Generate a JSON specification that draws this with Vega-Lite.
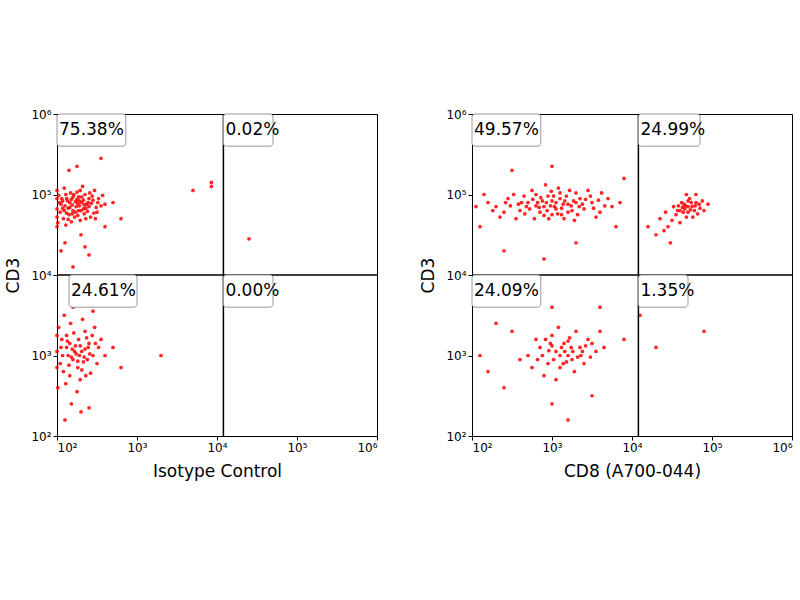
{
  "$schema": "https://vega.github.io/schema/vega-lite/v6.json",
  "padding": {"left": 4, "top": 107, "right": 5, "bottom": 5},
  "spacing": 40,
  "datasets": {
    "pts": [
      {"p":"L","x":2.05,"y":4.88},{"p":"L","x":2.12,"y":4.95},{"p":"L","x":2.2,"y":4.8},{"p":"L","x":2.31,"y":4.9},{"p":"L","x":2.4,"y":4.85},{"p":"L","x":2.5,"y":4.78},{"p":"L","x":2.08,"y":4.7},{"p":"L","x":2.17,"y":5.02},{"p":"L","x":2.26,"y":4.74},{"p":"L","x":2.35,"y":5.0},{"p":"L","x":2.45,"y":4.93},{"p":"L","x":2.55,"y":4.86},{"p":"L","x":2.02,"y":4.99},{"p":"L","x":2.14,"y":4.83},{"p":"L","x":2.23,"y":4.91},{"p":"L","x":2.29,"y":4.68},{"p":"L","x":2.38,"y":4.79},{"p":"L","x":2.47,"y":5.05},{"p":"L","x":2.11,"y":4.62},{"p":"L","x":2.19,"y":4.87},{"p":"L","x":2.27,"y":4.97},{"p":"L","x":2.33,"y":4.82},{"p":"L","x":2.42,"y":4.72},{"p":"L","x":2.52,"y":4.95},{"p":"L","x":2.04,"y":4.78},{"p":"L","x":2.09,"y":5.08},{"p":"L","x":2.16,"y":4.9},{"p":"L","x":2.24,"y":4.85},{"p":"L","x":2.32,"y":5.1},{"p":"L","x":2.39,"y":4.9},{"p":"L","x":2.6,"y":4.88},{"p":"L","x":2.07,"y":4.83},{"p":"L","x":2.15,"y":4.75},{"p":"L","x":2.21,"y":5.0},{"p":"L","x":2.28,"y":4.86},{"p":"L","x":2.36,"y":4.7},{"p":"L","x":2.44,"y":4.98},{"p":"L","x":2.01,"y":4.65},{"p":"L","x":2.13,"y":4.92},{"p":"L","x":2.25,"y":4.94},{"p":"L","x":2.34,"y":4.76},{"p":"L","x":2.41,"y":5.02},{"p":"L","x":2.49,"y":4.84},{"p":"L","x":2.06,"y":4.95},{"p":"L","x":2.18,"y":4.66},{"p":"L","x":2.3,"y":4.8},{"p":"L","x":2.37,"y":4.88},{"p":"L","x":2.46,"y":4.77},{"p":"L","x":2.57,"y":4.99},{"p":"L","x":2.1,"y":4.86},{"p":"L","x":2.22,"y":4.72},{"p":"L","x":2.29,"y":5.05},{"p":"L","x":2.4,"y":4.95},{"p":"L","x":2.03,"y":4.9},{"p":"L","x":2.2,"y":4.97},{"p":"L","x":2.27,"y":4.8},{"p":"L","x":2.33,"y":4.93},{"p":"L","x":2.12,"y":4.77},{"p":"L","x":2.26,"y":4.89},{"p":"L","x":2.16,"y":4.84},
      {"p":"L","x":2.0,"y":4.82},{"p":"L","x":2.0,"y":4.72},{"p":"L","x":2.0,"y":4.95},{"p":"L","x":2.0,"y":5.05},{"p":"L","x":2.0,"y":4.6},{"p":"L","x":2.07,"y":4.92},{"p":"L","x":2.14,"y":4.69},{"p":"L","x":2.23,"y":4.78},{"p":"L","x":2.31,"y":4.97},{"p":"L","x":2.36,"y":4.83},{"p":"L","x":2.43,"y":4.89},{"p":"L","x":2.51,"y":4.9},{"p":"L","x":2.18,"y":4.94},{"p":"L","x":2.25,"y":5.03},{"p":"L","x":2.09,"y":4.8},{"p":"L","x":2.34,"y":4.87},{"p":"L","x":2.48,"y":4.7},{"p":"L","x":2.19,"y":4.76},{"p":"L","x":2.28,"y":4.92},{"p":"L","x":2.11,"y":5.0},
      {"p":"L","x":2.25,"y":5.35},{"p":"L","x":2.55,"y":5.45},{"p":"L","x":2.15,"y":5.3},{"p":"L","x":2.35,"y":4.35},{"p":"L","x":2.1,"y":4.4},{"p":"L","x":2.4,"y":4.25},{"p":"L","x":2.2,"y":4.1},{"p":"L","x":2.6,"y":4.6},{"p":"L","x":2.8,"y":4.7},{"p":"L","x":3.7,"y":5.05},{"p":"L","x":3.93,"y":5.1},{"p":"L","x":3.93,"y":5.15},{"p":"L","x":4.4,"y":4.45},{"p":"L","x":2.7,"y":4.9},{"p":"L","x":2.3,"y":4.5},{"p":"L","x":2.05,"y":4.3},
      {"p":"L","x":2.05,"y":3.1},{"p":"L","x":2.12,"y":3.25},{"p":"L","x":2.2,"y":2.95},{"p":"L","x":2.31,"y":3.05},{"p":"L","x":2.4,"y":3.15},{"p":"L","x":2.5,"y":2.9},{"p":"L","x":2.08,"y":2.8},{"p":"L","x":2.17,"y":3.4},{"p":"L","x":2.26,"y":2.85},{"p":"L","x":2.35,"y":3.3},{"p":"L","x":2.45,"y":3.0},{"p":"L","x":2.55,"y":3.2},{"p":"L","x":2.02,"y":3.35},{"p":"L","x":2.14,"y":3.0},{"p":"L","x":2.23,"y":3.12},{"p":"L","x":2.29,"y":2.7},{"p":"L","x":2.38,"y":2.95},{"p":"L","x":2.47,"y":3.35},{"p":"L","x":2.11,"y":2.65},{"p":"L","x":2.19,"y":3.08},{"p":"L","x":2.27,"y":3.2},{"p":"L","x":2.33,"y":2.92},{"p":"L","x":2.42,"y":2.78},{"p":"L","x":2.52,"y":3.1},{"p":"L","x":2.04,"y":2.9},{"p":"L","x":2.09,"y":3.5},{"p":"L","x":2.16,"y":3.15},{"p":"L","x":2.24,"y":3.02},{"p":"L","x":2.32,"y":3.45},{"p":"L","x":2.39,"y":3.1},{"p":"L","x":2.07,"y":3.0},{"p":"L","x":2.15,"y":2.88},{"p":"L","x":2.21,"y":3.28},{"p":"L","x":2.28,"y":3.0},{"p":"L","x":2.36,"y":2.75},{"p":"L","x":2.44,"y":3.25},{"p":"L","x":2.01,"y":2.6},{"p":"L","x":2.13,"y":3.18},{"p":"L","x":2.25,"y":2.55},{"p":"L","x":2.34,"y":2.98},{"p":"L","x":2.6,"y":3.0},{"p":"L","x":2.18,"y":2.4},{"p":"L","x":2.3,"y":2.3},{"p":"L","x":2.1,"y":2.2},{"p":"L","x":2.4,"y":2.35},{"p":"L","x":2.8,"y":2.85},{"p":"L","x":3.3,"y":3.0},{"p":"L","x":2.2,"y":3.6},{"p":"L","x":2.45,"y":3.55},{"p":"L","x":2.7,"y":3.1},
      {"p":"L","x":2.0,"y":3.05},{"p":"L","x":2.0,"y":2.85},{"p":"L","x":2.0,"y":3.25},{"p":"L","x":2.22,"y":3.05},{"p":"L","x":2.29,"y":3.12},{"p":"L","x":2.18,"y":2.98},{"p":"L","x":2.35,"y":3.08},{"p":"L","x":2.12,"y":3.1},{"p":"L","x":2.26,"y":2.93},{"p":"L","x":2.41,"y":3.02},{"p":"L","x":2.06,"y":3.2},{"p":"L","x":2.31,"y":2.82},{"p":"L","x":2.48,"y":3.15},{"p":"L","x":2.16,"y":2.75},{"p":"L","x":2.37,"y":3.22},
      {"p":"R","x":2.3,"y":4.85},{"p":"R","x":2.45,"y":4.95},{"p":"R","x":2.6,"y":4.8},{"p":"R","x":2.7,"y":4.9},{"p":"R","x":2.8,"y":5.0},{"p":"R","x":2.9,"y":4.85},{"p":"R","x":3.0,"y":4.75},{"p":"R","x":3.1,"y":4.95},{"p":"R","x":3.2,"y":4.88},{"p":"R","x":3.3,"y":5.02},{"p":"R","x":3.4,"y":4.82},{"p":"R","x":3.5,"y":4.9},{"p":"R","x":3.6,"y":4.78},{"p":"R","x":3.7,"y":4.95},{"p":"R","x":2.55,"y":4.7},{"p":"R","x":2.75,"y":5.05},{"p":"R","x":2.85,"y":4.78},{"p":"R","x":2.95,"y":4.98},{"p":"R","x":3.05,"y":4.9},{"p":"R","x":3.15,"y":4.7},{"p":"R","x":3.25,"y":4.8},{"p":"R","x":3.35,"y":4.95},{"p":"R","x":3.45,"y":5.05},{"p":"R","x":3.55,"y":4.72},{"p":"R","x":2.4,"y":4.78},{"p":"R","x":2.65,"y":4.98},{"p":"R","x":2.88,"y":4.92},{"p":"R","x":2.98,"y":4.86},{"p":"R","x":3.08,"y":5.08},{"p":"R","x":3.18,"y":4.98},{"p":"R","x":3.28,"y":4.68},{"p":"R","x":2.2,"y":4.9},{"p":"R","x":3.75,"y":4.85},{"p":"R","x":2.52,"y":5.0},{"p":"R","x":2.78,"y":4.7},{"p":"R","x":3.02,"y":4.98},{"p":"R","x":3.12,"y":4.83},{"p":"R","x":3.22,"y":5.05},{"p":"R","x":3.38,"y":4.88},{"p":"R","x":2.92,"y":5.12},{"p":"R","x":2.68,"y":4.85},{"p":"R","x":3.48,"y":4.98},{"p":"R","x":3.62,"y":5.02},{"p":"R","x":2.35,"y":4.72},{"p":"R","x":3.85,"y":4.9},{"p":"R","x":2.82,"y":4.9},{"p":"R","x":3.05,"y":4.82},{"p":"R","x":2.96,"y":4.7},{"p":"R","x":3.32,"y":4.75},{"p":"R","x":2.62,"y":4.9},
      {"p":"R","x":2.72,"y":4.82},{"p":"R","x":2.86,"y":4.96},{"p":"R","x":2.94,"y":4.8},{"p":"R","x":3.0,"y":4.92},{"p":"R","x":3.07,"y":4.76},{"p":"R","x":3.14,"y":4.88},{"p":"R","x":3.2,"y":4.78},{"p":"R","x":3.27,"y":4.92},{"p":"R","x":3.34,"y":4.85},{"p":"R","x":3.42,"y":4.94},{"p":"R","x":2.58,"y":4.88},{"p":"R","x":2.66,"y":4.76},{"p":"R","x":2.76,"y":4.94},{"p":"R","x":2.84,"y":4.84},{"p":"R","x":3.1,"y":5.02},{"p":"R","x":3.16,"y":4.92},{"p":"R","x":3.24,"y":4.86},{"p":"R","x":2.9,"y":4.74},{"p":"R","x":2.99,"y":5.04},{"p":"R","x":3.03,"y":4.85},{"p":"R","x":2.48,"y":4.86},{"p":"R","x":3.52,"y":4.83},{"p":"R","x":3.58,"y":4.93},{"p":"R","x":3.66,"y":4.86},{"p":"R","x":2.26,"y":4.8},{"p":"R","x":2.42,"y":4.9},{"p":"R","x":3.12,"y":4.75},{"p":"R","x":2.93,"y":4.9},{"p":"R","x":2.8,"y":4.86},{"p":"R","x":3.3,"y":4.9},
      {"p":"R","x":2.5,"y":5.3},{"p":"R","x":3.0,"y":5.35},{"p":"R","x":2.1,"y":4.6},{"p":"R","x":3.8,"y":4.6},{"p":"R","x":3.3,"y":4.4},{"p":"R","x":2.9,"y":4.2},{"p":"R","x":2.4,"y":4.3},{"p":"R","x":3.9,"y":5.2},{"p":"R","x":2.05,"y":4.85},{"p":"R","x":2.15,"y":5.0},
      {"p":"R","x":4.6,"y":4.8},{"p":"R","x":4.65,"y":4.88},{"p":"R","x":4.7,"y":4.78},{"p":"R","x":4.75,"y":4.85},{"p":"R","x":4.8,"y":4.9},{"p":"R","x":4.68,"y":4.72},{"p":"R","x":4.72,"y":4.95},{"p":"R","x":4.78,"y":4.8},{"p":"R","x":4.62,"y":4.9},{"p":"R","x":4.85,"y":4.83},{"p":"R","x":4.55,"y":4.75},{"p":"R","x":4.7,"y":4.85},{"p":"R","x":4.74,"y":4.9},{"p":"R","x":4.66,"y":4.82},{"p":"R","x":4.82,"y":4.76},{"p":"R","x":4.58,"y":4.86},{"p":"R","x":4.76,"y":4.72},{"p":"R","x":4.88,"y":4.92},{"p":"R","x":4.64,"y":4.78},{"p":"R","x":4.7,"y":4.92},{"p":"R","x":4.5,"y":4.68},{"p":"R","x":4.45,"y":4.6},{"p":"R","x":4.4,"y":4.55},{"p":"R","x":4.35,"y":4.7},{"p":"R","x":4.52,"y":4.85},{"p":"R","x":4.9,"y":4.8},{"p":"R","x":4.8,"y":5.0},{"p":"R","x":4.68,"y":5.0},{"p":"R","x":4.6,"y":4.65},{"p":"R","x":4.3,"y":4.5},{"p":"R","x":4.42,"y":4.78},{"p":"R","x":4.95,"y":4.88},{"p":"R","x":4.48,"y":4.4},{"p":"R","x":4.2,"y":4.6},
      {"p":"R","x":4.67,"y":4.86},{"p":"R","x":4.73,"y":4.81},{"p":"R","x":4.79,"y":4.86},{"p":"R","x":4.63,"y":4.84},{"p":"R","x":4.84,"y":4.88},{"p":"R","x":4.57,"y":4.8},
      {"p":"R","x":2.7,"y":3.0},{"p":"R","x":2.85,"y":3.1},{"p":"R","x":2.95,"y":2.9},{"p":"R","x":3.05,"y":3.05},{"p":"R","x":3.15,"y":3.15},{"p":"R","x":3.25,"y":2.95},{"p":"R","x":3.35,"y":3.1},{"p":"R","x":3.45,"y":3.2},{"p":"R","x":3.55,"y":3.05},{"p":"R","x":2.9,"y":2.75},{"p":"R","x":3.0,"y":3.25},{"p":"R","x":3.1,"y":2.85},{"p":"R","x":3.2,"y":3.0},{"p":"R","x":3.3,"y":3.3},{"p":"R","x":3.4,"y":2.9},{"p":"R","x":3.5,"y":3.15},{"p":"R","x":2.8,"y":3.2},{"p":"R","x":3.05,"y":2.7},{"p":"R","x":3.22,"y":3.22},{"p":"R","x":3.38,"y":3.05},{"p":"R","x":3.6,"y":3.3},{"p":"R","x":2.6,"y":2.95},{"p":"R","x":3.12,"y":3.1},{"p":"R","x":3.28,"y":2.8},{"p":"R","x":2.98,"y":3.15},{"p":"R","x":3.18,"y":2.92},{"p":"R","x":3.48,"y":2.98},{"p":"R","x":2.75,"y":2.85},{"p":"R","x":3.65,"y":3.1},{"p":"R","x":3.08,"y":3.35},
      {"p":"R","x":2.88,"y":3.0},{"p":"R","x":2.96,"y":3.06},{"p":"R","x":3.02,"y":2.95},{"p":"R","x":3.1,"y":3.0},{"p":"R","x":3.16,"y":3.05},{"p":"R","x":3.24,"y":3.1},{"p":"R","x":3.32,"y":2.98},{"p":"R","x":3.42,"y":3.12},{"p":"R","x":2.82,"y":2.95},{"p":"R","x":3.0,"y":3.12},{"p":"R","x":3.2,"y":3.18},{"p":"R","x":3.36,"y":3.0},{"p":"R","x":3.14,"y":2.9},{"p":"R","x":2.92,"y":3.2},{"p":"R","x":3.26,"y":3.05},
      {"p":"R","x":2.1,"y":3.0},{"p":"R","x":2.3,"y":3.4},{"p":"R","x":2.4,"y":2.6},{"p":"R","x":3.0,"y":2.4},{"p":"R","x":3.2,"y":2.2},{"p":"R","x":3.5,"y":2.5},{"p":"R","x":3.9,"y":3.2},{"p":"R","x":4.3,"y":3.1},{"p":"R","x":4.9,"y":3.3},{"p":"R","x":2.2,"y":2.8},{"p":"R","x":3.0,"y":3.6},{"p":"R","x":3.6,"y":3.6},{"p":"R","x":2.5,"y":3.3},{"p":"R","x":4.1,"y":3.5}
    ],
    "gates": [
      {"p":"L","t":"75.38%","x":2.0,"x2":2.86,"y":6.0,"y2":5.6},
      {"p":"L","t":"0.02%","x":4.08,"x2":4.7,"y":6.0,"y2":5.6},
      {"p":"L","t":"24.61%","x":2.15,"x2":3.0,"y":4.0,"y2":3.6},
      {"p":"L","t":"0.00%","x":4.08,"x2":4.7,"y":4.0,"y2":3.6},
      {"p":"R","t":"49.57%","x":2.0,"x2":2.86,"y":6.0,"y2":5.6},
      {"p":"R","t":"24.99%","x":4.08,"x2":4.85,"y":6.0,"y2":5.6},
      {"p":"R","t":"24.09%","x":2.0,"x2":2.86,"y":4.0,"y2":3.6},
      {"p":"R","t":"1.35%","x":4.08,"x2":4.7,"y":4.0,"y2":3.6}
    ],
    "lines": [{"vx":4.08,"hy":4.0}]
  },
  "hconcat": [
    {
      "width": 320, "height": 322,
      "layer": [
        {"data": {"name": "pts"}, "transform": [{"filter": "datum.p === 'L'"}],
         "mark": {"type": "circle", "size": 14, "color": "#ff0000", "opacity": 0.85},
         "encoding": {
           "x": {"field": "x", "type": "quantitative", "scale": {"domain": [2, 6]}, "title": "Isotype Control",
                 "axis": {"values": [2,3,4,5,6], "labelExpr": "'10' + ['⁰','¹','²','³','⁴','⁵','⁶'][datum.value]"}},
           "y": {"field": "y", "type": "quantitative", "scale": {"domain": [2, 6]}, "title": "CD3",
                 "axis": {"values": [2,3,4,5,6], "labelExpr": "'10' + ['⁰','¹','²','³','⁴','⁵','⁶'][datum.value]"}}
         }},
        {"data": {"name": "lines"}, "mark": {"type": "rule", "color": "black", "strokeWidth": 1.5}, "encoding": {"x": {"field": "vx", "type": "quantitative"}}},
        {"data": {"name": "lines"}, "mark": {"type": "rule", "color": "black", "strokeWidth": 1.5}, "encoding": {"y": {"field": "hy", "type": "quantitative"}}},
        {"data": {"name": "gates"}, "transform": [{"filter": "datum.p === 'L'"}],
         "mark": {"type": "rect", "fill": "white", "stroke": "#999999", "cornerRadius": 3},
         "encoding": {"x": {"field": "x", "type": "quantitative"}, "x2": {"field": "x2"}, "y": {"field": "y", "type": "quantitative"}, "y2": {"field": "y2"}}},
        {"data": {"name": "gates"}, "transform": [{"filter": "datum.p === 'L'"}],
         "mark": {"type": "text", "align": "left", "baseline": "middle", "dx": 2, "dy": 16, "fontSize": 17, "font": "DejaVu Sans"},
         "encoding": {"x": {"field": "x", "type": "quantitative"}, "y": {"field": "y", "type": "quantitative"}, "text": {"field": "t"}}}
      ]
    },
    {
      "width": 320, "height": 322,
      "layer": [
        {"data": {"name": "pts"}, "transform": [{"filter": "datum.p === 'R'"}],
         "mark": {"type": "circle", "size": 14, "color": "#ff0000", "opacity": 0.85},
         "encoding": {
           "x": {"field": "x", "type": "quantitative", "scale": {"domain": [2, 6]}, "title": "CD8 (A700-044)",
                 "axis": {"values": [2,3,4,5,6], "labelExpr": "'10' + ['⁰','¹','²','³','⁴','⁵','⁶'][datum.value]"}},
           "y": {"field": "y", "type": "quantitative", "scale": {"domain": [2, 6]}, "title": "CD3",
                 "axis": {"values": [2,3,4,5,6], "labelExpr": "'10' + ['⁰','¹','²','³','⁴','⁵','⁶'][datum.value]"}}
         }},
        {"data": {"name": "lines"}, "mark": {"type": "rule", "color": "black", "strokeWidth": 1.5}, "encoding": {"x": {"field": "vx", "type": "quantitative"}}},
        {"data": {"name": "lines"}, "mark": {"type": "rule", "color": "black", "strokeWidth": 1.5}, "encoding": {"y": {"field": "hy", "type": "quantitative"}}},
        {"data": {"name": "gates"}, "transform": [{"filter": "datum.p === 'R'"}],
         "mark": {"type": "rect", "fill": "white", "stroke": "#999999", "cornerRadius": 3},
         "encoding": {"x": {"field": "x", "type": "quantitative"}, "x2": {"field": "x2"}, "y": {"field": "y", "type": "quantitative"}, "y2": {"field": "y2"}}},
        {"data": {"name": "gates"}, "transform": [{"filter": "datum.p === 'R'"}],
         "mark": {"type": "text", "align": "left", "baseline": "middle", "dx": 2, "dy": 16, "fontSize": 17, "font": "DejaVu Sans"},
         "encoding": {"x": {"field": "x", "type": "quantitative"}, "y": {"field": "y", "type": "quantitative"}, "text": {"field": "t"}}}
      ]
    }
  ],
  "config": {
    "view": {"stroke": "black", "strokeWidth": 1},
    "axis": {"grid": false, "domainColor": "black", "tickColor": "black", "labelColor": "black", "titleColor": "black",
             "labelFont": "DejaVu Sans", "titleFont": "DejaVu Sans", "labelFontSize": 12, "titleFontSize": 17, "titleFontWeight": "normal", "tickSize": 4},
    "axisX": {"titlePadding": 10},
    "axisY": {"titlePadding": 8}
  }
}
